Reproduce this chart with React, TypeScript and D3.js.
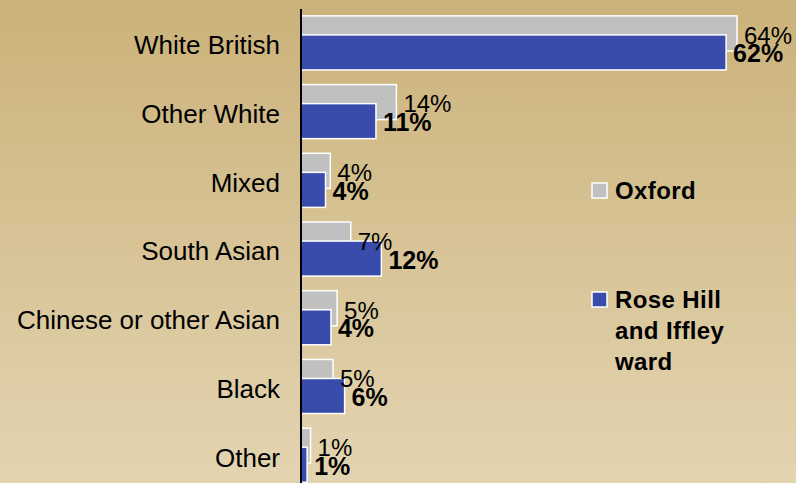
import { useMemo } from 'react'
import * as d3 from 'd3'

const categories = ['White British', 'Other White', 'Mixed', 'South Asian', 'Chinese or other Asian', 'Black', 'Other']
const oxford = [64, 14, 4.3, 7.3, 5.3, 4.7, 1.4]
const roseHill = [62.4, 11, 3.6, 11.8, 4.4, 6.4, 0.9]
const oxfordLabels = ['64%', '14%', '4%', '7%', '5%', '5%', '1%']
const roseHillLabels = ['62%', '11%', '4%', '12%', '4%', '6%', '1%']

const W = 796
const H = 483
const FONT = '"Liberation Sans", Arial, sans-serif'
const GREY = '#c0c0c0'
const BLUE = '#3a4cab'

export default function App() {
  const x = useMemo(() => d3.scaleLinear().domain([0, 64]).range([301, 737]), [])
  const y = useMemo(() => d3.scaleBand<string>().domain(categories).range([9, 490]), [])
  const bw = y.bandwidth()
  const barH = bw * 0.51
  const top = bw * 0.1
  const shift = bw * 0.277

  return (
    <svg width={W} height={H} style={{ position: 'fixed', left: 0, top: 0, display: 'block' }} fontFamily={FONT}>
      <defs>
        <linearGradient id="bg" x1="0" y1="0" x2="0" y2="1">
          <stop offset="0" stopColor="#cbb27a" />
          <stop offset="1" stopColor="#e3d4b1" />
        </linearGradient>
      </defs>
      <rect width={W} height={H} fill="url(#bg)" />

      {categories.map((c, i) => {
        const y0 = (y(c) ?? 0) + top
        return (
          <g key={c}>
            <rect x={x(0)} y={y0} width={x(oxford[i]) - x(0)} height={barH} fill={GREY} stroke="#fff" strokeWidth={1.5} />
            <rect x={x(0)} y={y0 + shift} width={x(roseHill[i]) - x(0)} height={barH} fill={BLUE} stroke="#fff" strokeWidth={1.5} />
            <text x={x(oxford[i]) + 7} y={y0 + barH / 2} dy="0.43em" fontSize={24} fill="#000">{oxfordLabels[i]}</text>
            <text x={x(roseHill[i]) + 7} y={y0 + shift + barH / 2} dy="0.4em" fontSize={25} fontWeight="bold" fill="#000">{roseHillLabels[i]}</text>
            <text x={280} y={(y(c) ?? 0) + bw / 2} dy="0.42em" textAnchor="end" fontSize={26} fill="#000">{c}</text>
          </g>
        )
      })}

      <line x1={x(0)} x2={x(0)} y1={9} y2={H} stroke="#000" strokeWidth={2} />

      <g fontSize={24} fontWeight="bold" letterSpacing={0.4}>
        <rect x={592} y={183} width={15} height={15} fill={GREY} stroke="#fff" strokeWidth={1.5} />
        <text x={615} y={199}>Oxford</text>
        <rect x={592} y={292} width={15} height={15} fill={BLUE} stroke="#fff" strokeWidth={1.5} />
        <text x={615} y={308}>
          <tspan x={615}>Rose Hill</tspan>
          <tspan x={615} dy={31}>and Iffley</tspan>
          <tspan x={615} dy={31}>ward</tspan>
        </text>
      </g>
    </svg>
  )
}
